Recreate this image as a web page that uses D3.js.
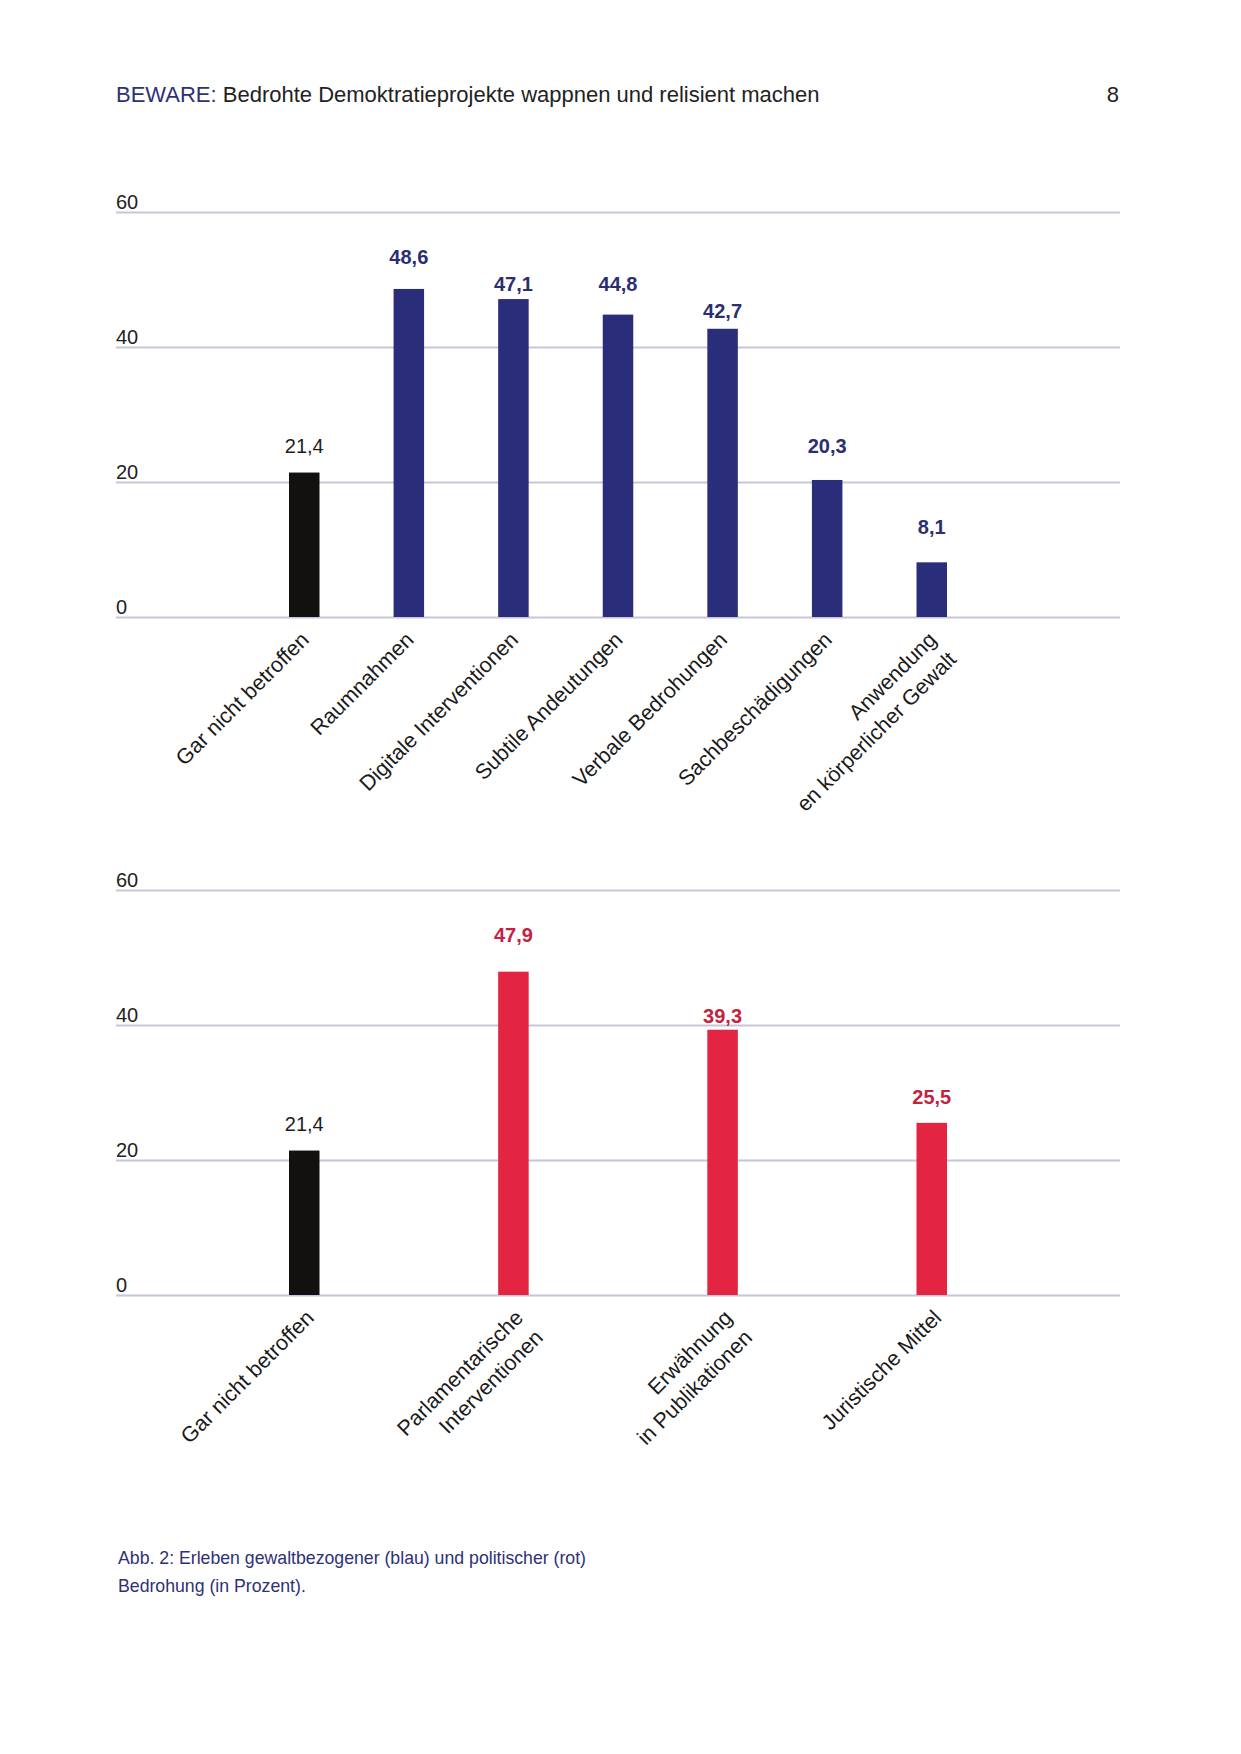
<!DOCTYPE html>
<html>
<head>
<meta charset="utf-8">
<script src="https://cdn.jsdelivr.net/npm/d3@7"></script>
<style>
  html, body { margin: 0; padding: 0; background: #ffffff; }
  svg { display: block; font-family: "Liberation Sans", Arial, Helvetica, sans-serif; }
</style>
</head>
<body>
<svg id="page" width="1241" height="1754"></svg>
<script>
// ---------- data ----------
const headerBrand = "BEWARE:";
const headerTitle = " Bedrohte Demoktratieprojekte wappnen und relisient machen";
const pageNumber = "8";

const topCategories = [
  "Gar nicht betroffen",
  "Raumnahmen",
  "Digitale Interventionen",
  "Subtile Andeutungen",
  "Verbale Bedrohungen",
  "Sachbeschädigungen",
  "Anwendung\nen körperlicher Gewalt"
];
const topValues = [21.4, 48.6, 47.1, 44.8, 42.7, 20.3, 8.1];
const topGroups = ["none", "gewalt", "gewalt", "gewalt", "gewalt", "gewalt", "gewalt"];

const bottomCategories = [
  "Gar nicht betroffen",
  "Parlamentarische\nInterventionen",
  "Erwähnung\nin Publikationen",
  "Juristische Mittel"
];
const bottomValues = [21.4, 47.9, 39.3, 25.5];
const bottomGroups = ["none", "politisch", "politisch", "politisch"];

const yTicks = [0, 20, 40, 60];
const yDomain = [0, 60];

const captionLines = [
  "Abb. 2: Erleben gewaltbezogener (blau) und politischer (rot)",
  "Bedrohung (in Prozent)."
];

// ---------- styles ----------
const barColor = { none: "#121110", gewalt: "#2a2e7a", politisch: "#e32541" };
const labelColor = { none: "#1e1e1e", gewalt: "#2b2e72", politisch: "#c3233f" };
const labelWeight = { none: "400", gewalt: "700", politisch: "700" };
const navy = "#2e3177";
const gridColor = "#c6c5da";

const svg = d3.select("#page");
svg.append("rect").attr("width", 1241).attr("height", 1754).attr("fill", "#fff");

// ---------- header ----------
const header = svg.append("text")
  .attr("x", 116).attr("y", 102)
  .attr("font-size", 22).attr("fill", "#222");
header.append("tspan").attr("fill", navy).text(headerBrand);
header.append("tspan").text(headerTitle);
svg.append("text")
  .attr("x", 1119).attr("y", 102)
  .attr("text-anchor", "end").attr("font-size", 22).attr("fill", "#222")
  .text(pageNumber);

// ---------- chart builder ----------
const plotLeft = 116, plotRight = 1120;

function drawChart(cfg) {
  const g = svg.append("g");
  const y = d3.scaleLinear().domain(yDomain).range([cfg.bottom, cfg.top]);
  const x = d3.scalePoint().domain(cfg.categories).range([plotLeft, plotRight]).padding(cfg.padding);

  // gridlines + tick labels
  const axis = d3.axisRight(y)
    .tickValues(yTicks)
    .tickSize(plotRight - plotLeft)
    .tickFormat(d3.format("d"));
  const ag = g.append("g").attr("transform", `translate(${plotLeft},0)`).call(axis);
  ag.select(".domain").remove();
  ag.selectAll(".tick line").attr("stroke", gridColor).attr("stroke-width", 2);
  ag.selectAll(".tick text")
    .attr("x", 0).attr("y", -4).attr("dy", null)
    .attr("text-anchor", "start")
    .attr("font-family", "Liberation Sans, Arial, sans-serif")
    .attr("font-size", 20).attr("fill", "#222");

  const rows = cfg.categories.map((c, i) => ({ cat: c, v: cfg.values[i], grp: cfg.groups[i] }));
  const barW = 30.5;

  // bars
  g.selectAll("rect.bar").data(rows).enter().append("rect")
    .attr("class", "bar")
    .attr("x", d => x(d.cat) - barW / 2)
    .attr("width", barW)
    .attr("y", d => y(d.v))
    .attr("height", d => y(0) - y(d.v))
    .attr("fill", d => barColor[d.grp]);

  // value labels (snapped to a 4-unit baseline grid, bumped when too close)
  function labelLevel(v) {
    let s = Math.ceil(v / 4) * 4;
    if (s - v < 0.5) s += 4;
    return s;
  }
  g.selectAll("text.val").data(rows).enter().append("text")
    .attr("class", "val")
    .attr("x", d => x(d.cat))
    .attr("y", d => y(labelLevel(d.v)) - 2)
    .attr("text-anchor", "middle")
    .attr("font-size", 20)
    .attr("font-weight", d => labelWeight[d.grp])
    .attr("fill", d => labelColor[d.grp])
    .text(d => d3.format(".1f")(d.v).replace(".", ","));

  // rotated category labels
  const cl = g.selectAll("text.cat").data(rows).enter().append("text")
    .attr("class", "cat")
    .attr("transform", d => `translate(${x(d.cat) + cfg.labelDx},${y(0) + 24}) rotate(-45)`)
    .attr("text-anchor", "end")
    .attr("font-size", 21.5)
    .attr("fill", "#1a1a1a");
  cl.each(function (d) {
    const lines = d.cat.split("\n");
    const t = d3.select(this);
    lines.forEach((ln, i) => {
      t.append("tspan").attr("x", 0).attr("dy", i === 0 ? 0 : "1.3em").text(ln);
    });
  });
}

drawChart({
  categories: topCategories, values: topValues, groups: topGroups,
  top: 212, bottom: 617, padding: 1.8, labelDx: 6
});
drawChart({
  categories: bottomCategories, values: bottomValues, groups: bottomGroups,
  top: 890, bottom: 1295, padding: 0.9, labelDx: 11
});

// ---------- caption ----------
svg.append("g").selectAll("text").data(captionLines).enter().append("text")
  .attr("x", 118)
  .attr("y", (d, i) => 1564 + i * 28)
  .attr("font-size", 17.7)
  .attr("fill", navy)
  .text(d => d);
</script>
</body>
</html>
